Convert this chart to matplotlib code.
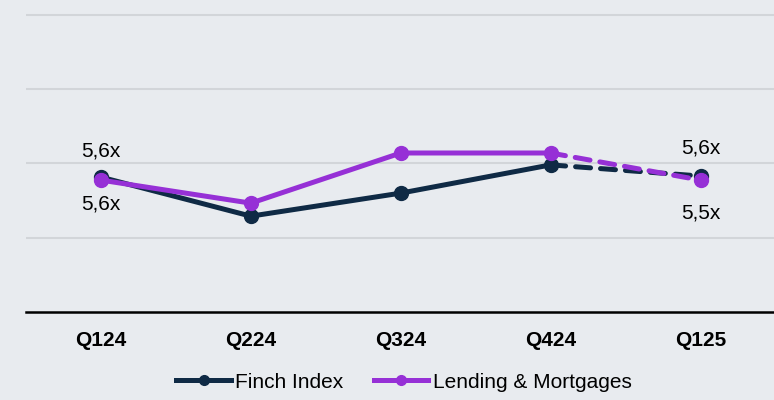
import numpy as np
import matplotlib.pyplot as plt
from matplotlib.lines import Line2D

# ============================================================
# DATA
# ============================================================

quarters = ["Q124", "Q224", "Q324", "Q424", "Q125"]

finch_index = [5.63, 4.58, 5.20, 5.96, 5.66]
lending_mortgages = [5.55, 4.93, 6.28, 6.28, 5.55]

# data labels (first and last point)
finch_labels = ["5,6x", "5,6x"]
lending_labels = ["5,6x", "5,5x"]

series_names = ["Finch Index", "Lending & Mortgages"]

# ============================================================
# STYLE
# ============================================================

bg = "#e8ebef"
navy = "#0f2a45"
purple = "#9630d6"
grid_col = "#d2d5d9"

plt.rcParams['font.family'] = ['Liberation Sans', 'DejaVu Sans']

fig = plt.figure(figsize=(7.74, 4.0), dpi=100, facecolor=bg)
ax = fig.add_axes([26 / 774, 88 / 400, 748 / 774, 312 / 400])
ax.set_facecolor(bg)

x = np.arange(len(quarters))

# ============================================================
# LINES
# ============================================================

for values, color, z in [(finch_index, navy, 3), (lending_mortgages, purple, 4)]:
    # solid part
    ax.plot(x[:4], values[:4], color=color, lw=3.6, marker='o', ms=10,
            solid_capstyle='round', zorder=z)
    # dashed projection
    ax.plot(x[3:], values[3:], color=color, lw=3.6, ls=(0, (3, 2)),
            dash_capstyle='round', zorder=z)
    ax.plot(x[4], values[4], color=color, marker='o', ms=10, zorder=z)

# ============================================================
# DATA LABELS
# ============================================================

lab_kw = dict(textcoords='offset points', ha='center', va='center', fontsize=15)
ax.annotate(finch_labels[0], (x[0], finch_index[0]), xytext=(0, 19), **lab_kw)
ax.annotate(lending_labels[0], (x[0], lending_mortgages[0]), xytext=(0, -17), **lab_kw)
ax.annotate(finch_labels[1], (x[4], finch_index[4]), xytext=(0, 20), **lab_kw)
ax.annotate(lending_labels[1], (x[4], lending_mortgages[4]), xytext=(0, -24), **lab_kw)

# ============================================================
# AXES
# ============================================================

ax.set_xlim(-0.5, 4.49)
ax.set_ylim(2, 2 + 312 / 37.15)
ax.set_yticks([4, 6, 8, 10])
ax.yaxis.grid(True, color=grid_col, lw=1.5)
ax.set_axisbelow(True)
ax.tick_params(axis='y', left=False, labelleft=False)

ax.set_xticks(x)
ax.set_xticklabels(quarters, fontsize=15, fontweight='bold')
ax.tick_params(axis='x', length=0, pad=14)

for s in ['top', 'right', 'left']:
    ax.spines[s].set_visible(False)
ax.spines['bottom'].set_color('black')
ax.spines['bottom'].set_linewidth(1.8)

# ============================================================
# LEGEND
# ============================================================

handles = [Line2D([], [], color=c, lw=3.6, marker='o', ms=7) for c in (navy, purple)]
fig.legend(handles, series_names, loc='center', bbox_to_anchor=(404 / 774, 18 / 400),
           ncol=2, frameon=False, fontsize=15, handlelength=2.6,
           handletextpad=0.2, columnspacing=1.5)

plt.savefig("out.png", dpi=100, facecolor=bg)
